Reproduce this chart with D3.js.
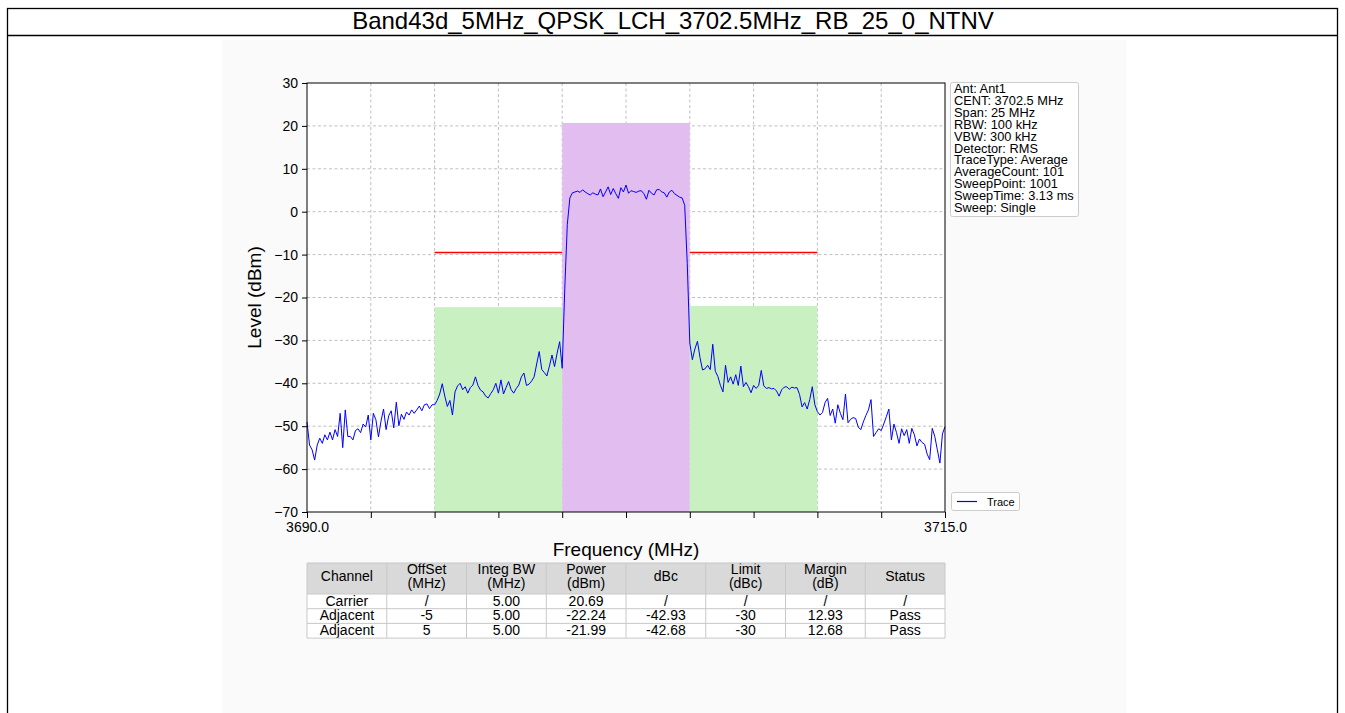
<!DOCTYPE html>
<html>
<head>
<meta charset="utf-8">
<script src="https://cdn.jsdelivr.net/npm/d3@7"></script>
<style>
  body { margin: 0; background: #fff; }
  svg text { font-family: "Liberation Sans", Arial, sans-serif; }
</style>
</head>
<body>
<div id="canvas"></div>
<script>
const title = "Band43d_5MHz_QPSK_LCH_3702.5MHz_RB_25_0_NTNV";

// sweep: 3690.0 .. 3715.0 MHz, one value per 0.1 MHz
const traceStart = 3690.0;
const traceStep = 0.1;
const traceLeft = [
  -49.0, -54.4, -55.5, -57.9, -54.4, -52.8, -54.0, -52.0, -53.2, -51.4,
  -53.2, -50.8, -52.4, -47.0, -55.0, -46.2, -52.4, -52.4, -53.2, -51.0,
  -50.6, -51.5, -49.5, -50.2, -47.4, -53.2, -47.0, -48.5, -52.5, -48.8,
  -46.0, -50.8, -47.6, -46.4, -50.4, -44.4, -49.9, -47.2, -48.4, -46.7,
  -47.4, -46.2, -47.0, -46.2, -45.3, -46.4, -45.0, -44.8, -45.9, -45.0, -45.0
];
const traceLowerAdj = [
  -44.0, -42.5, -40.1, -43.0, -45.4, -44.0, -47.4, -42.0, -40.6, -40.0,
  -41.5, -40.8, -42.3, -41.0, -40.4, -38.5, -40.5, -41.6, -42.0, -43.0,
  -43.4, -42.4, -41.5, -40.0, -42.3, -39.2, -42.5, -41.0, -39.6, -41.5,
  -42.3, -41.2, -40.4, -38.5, -37.6, -40.5, -40.2, -39.5, -38.5, -35.5,
  -32.6, -36.8, -37.5, -38.3, -36.0, -33.4, -36.1, -33.0, -30.3, -36.5
];
const traceCarrier = [
  -18.0, -3.0, 3.2,
  4.4, 4.6, 4.8, 4.5, 5.1, 4.6, 4.2, 3.9, 4.4, 4.1,
  3.9, 5.3, 3.5, 4.6, 5.8, 4.0, 5.4, 4.2, 3.1, 5.6,
  4.6, 6.2, 4.3, 4.9, 4.7, 4.5, 4.8, 4.9, 4.2, 2.9,
  5.0, 4.3, 3.9, 5.1, 5.2, 4.6, 4.4, 3.4, 4.6, 5.0,
  4.2, 3.8, 3.4, 3.2,
  1.5, -12.0
];
const traceRight = [
  -30.6, -34.5, -32.0, -30.2, -34.0, -36.9, -36.6, -35.8, -36.8, -30.9,
  -37.2, -38.4, -40.5, -42.0, -35.8, -39.8, -38.5, -40.2, -38.0, -40.5,
  -36.0, -40.8, -39.8, -40.8, -42.2, -40.5, -41.2, -40.5, -37.0, -40.6,
  -41.2, -41.0, -41.3, -41.2, -41.8, -43.0, -41.5, -40.9, -40.8, -41.4,
  -40.9, -41.1, -41.0, -42.6, -45.5, -44.5, -46.0, -43.8, -40.8, -45.0,
  -46.6, -47.4, -46.8, -44.5, -43.5, -47.5, -46.0, -49.3, -45.0, -47.0,
  -48.5, -42.5, -49.2, -48.4, -48.0, -48.2, -50.2, -50.8, -49.0, -47.5,
  -46.2, -43.8, -52.4, -51.5, -50.6, -51.0, -49.5, -47.8, -46.0, -53.2,
  -49.5, -51.5, -54.0, -50.6, -52.2, -50.8, -54.0, -50.5, -52.0, -54.6,
  -53.0, -53.8, -54.2, -56.5, -57.8, -50.5, -52.4, -55.5, -58.6, -51.8, -50.1
];
const traceValues = traceLeft.concat(traceLowerAdj, traceCarrier, traceRight);

// integration bands
const bandNames = ["Adjacent-", "Carrier", "Adjacent+"];
const bandStart = [3695, 3700, 3705];
const bandEnd = [3700, 3705, 3710];
const bandPower = [-22.24, 20.69, -21.99];
const bandColor = ["#c9f0c0", "#e2bdf0", "#c9f0c0"];
// limit lines over adjacent channels (carrier - 30 dB)
const limitStart = [3695, 3705];
const limitEnd = [3700, 3710];
const limitLevel = [-9.31, -9.31];

const xTicks = [3690, 3692.5, 3695, 3697.5, 3700, 3702.5, 3705, 3707.5, 3710, 3712.5, 3715];
const xTickLabels = { 3690: "3690.0", 3715: "3715.0" };
const yTicks = [30, 20, 10, 0, -10, -20, -30, -40, -50, -60, -70];

const infoLines = [
  "Ant: Ant1", "CENT: 3702.5 MHz", "Span: 25 MHz", "RBW: 100 kHz", "VBW: 300 kHz",
  "Detector: RMS", "TraceType: Average", "AverageCount: 101", "SweepPoint: 1001",
  "SweepTime: 3.13 ms", "Sweep: Single"
];

const tableHeader = [
  ["Channel"], ["OffSet", "(MHz)"], ["Integ BW", "(MHz)"], ["Power", "(dBm)"],
  ["dBc"], ["Limit", "(dBc)"], ["Margin", "(dB)"], ["Status"]
];
const tableRows = [
  ["Carrier", "/", "5.00", "20.69", "/", "/", "/", "/"],
  ["Adjacent", "-5", "5.00", "-22.24", "-42.93", "-30", "12.93", "Pass"],
  ["Adjacent", "5", "5.00", "-21.99", "-42.68", "-30", "12.68", "Pass"]
];

const W = 1345, H = 713;
const plot = { left: 307, right: 945, top: 83, bottom: 512 };

const svg = d3.select("#canvas").append("svg")
  .attr("width", W).attr("height", H);

// page frame and title cell
svg.append("rect").attr("x", 222).attr("y", 40).attr("width", 905).attr("height", H - 40)
  .attr("fill", "#fafafa");
svg.append("rect").attr("x", 7.5).attr("y", 8.5).attr("width", 1330).attr("height", H + 20)
  .attr("fill", "none").attr("stroke", "#000").attr("stroke-width", 1.3);
svg.append("line").attr("x1", 7.5).attr("x2", 1337.5).attr("y1", 35.5).attr("y2", 35.5)
  .attr("stroke", "#000").attr("stroke-width", 1.3);
svg.append("text").attr("x", 673).attr("y", 29).attr("text-anchor", "middle")
  .attr("font-size", 24).text(title);

const x = d3.scaleLinear().domain([3690, 3715]).range([plot.left, plot.right]);
const y = d3.scaleLinear().domain([-70, 30]).range([plot.bottom, plot.top]);

const g = svg.append("g");
g.append("rect").attr("x", plot.left).attr("y", plot.top)
  .attr("width", plot.right - plot.left).attr("height", plot.bottom - plot.top)
  .attr("fill", "#fff");

// grid
g.append("g").selectAll("line").data(xTicks.slice(1, -1)).join("line")
  .attr("x1", d => x(d)).attr("x2", d => x(d))
  .attr("y1", plot.top).attr("y2", plot.bottom)
  .attr("stroke", "#b0b0b0").attr("stroke-width", 0.8).attr("stroke-dasharray", "3,2.5");
g.append("g").selectAll("line").data(yTicks.slice(1, -1)).join("line")
  .attr("y1", d => y(d)).attr("y2", d => y(d))
  .attr("x1", plot.left).attr("x2", plot.right)
  .attr("stroke", "#b0b0b0").attr("stroke-width", 0.8).attr("stroke-dasharray", "3,2.5");

// channel bands
g.append("g").selectAll("rect").data(bandNames).join("rect")
  .attr("x", (d, i) => x(bandStart[i]))
  .attr("width", (d, i) => x(bandEnd[i]) - x(bandStart[i]))
  .attr("y", (d, i) => y(bandPower[i]))
  .attr("height", (d, i) => y(-70) - y(bandPower[i]))
  .attr("fill", (d, i) => bandColor[i]);

// limit lines (snapped to the pixel grid so they stay crisp)
g.append("g").selectAll("line").data(limitLevel).join("line")
  .attr("x1", (d, i) => x(limitStart[i])).attr("x2", (d, i) => x(limitEnd[i]))
  .attr("y1", d => Math.round(y(d)) + 0.5).attr("y2", d => Math.round(y(d)) + 0.5)
  .attr("stroke", "#ff0000").attr("stroke-width", 1.3);

// trace
const line = d3.line()
  .x((d, i) => x(traceStart + i * traceStep))
  .y(d => y(d));
g.append("path").datum(traceValues)
  .attr("d", line).attr("fill", "none")
  .attr("stroke", "#0000ff").attr("stroke-width", 1);

// axes
const xAxis = d3.axisBottom(x).tickValues(xTicks).tickSize(6).tickPadding(4)
  .tickFormat(d => xTickLabels[d] || "");
const yAxis = d3.axisLeft(y).tickValues(yTicks).tickSize(5).tickPadding(4)
  .tickFormat(d => d < 0 ? "\u2212" + Math.abs(d) : String(d));

const gx = svg.append("g").attr("transform", `translate(0,${plot.bottom})`).call(xAxis);
const gy = svg.append("g").attr("transform", `translate(${plot.left},0)`).call(yAxis);
[gx, gy].forEach(a => {
  a.select(".domain").remove();
  a.selectAll("text").attr("font-size", 14).attr("fill", "#000")
    .attr("font-family", "Liberation Sans, Arial, sans-serif");
  a.selectAll("line").attr("stroke", "#000");
});

svg.append("rect").attr("x", plot.left).attr("y", plot.top)
  .attr("width", plot.right - plot.left).attr("height", plot.bottom - plot.top)
  .attr("fill", "none").attr("stroke", "#000").attr("stroke-width", 1);

svg.append("text").attr("x", (plot.left + plot.right) / 2).attr("y", 556)
  .attr("text-anchor", "middle").attr("font-size", 19).text("Frequency (MHz)");
svg.append("text")
  .attr("transform", `translate(261,${(plot.top + plot.bottom) / 2}) rotate(-90)`)
  .attr("text-anchor", "middle").attr("font-size", 19).text("Level (dBm)");

// info box
const info = svg.append("g").attr("transform", "translate(950,82)");
info.append("rect").attr("x", 0.5).attr("y", 0.5).attr("width", 128).attr("height", 134)
  .attr("rx", 2).attr("fill", "#fff").attr("stroke", "#cccccc");
info.selectAll("text").data(infoLines).join("text")
  .attr("x", 4).attr("y", (d, i) => 11 + i * 11.9)
  .attr("font-size", 12.8).attr("fill", "#000").text(d => d);

// legend
const leg = svg.append("g").attr("transform", "translate(951,492)");
leg.append("rect").attr("x", 0.5).attr("y", 0.5).attr("width", 68).attr("height", 18)
  .attr("rx", 2).attr("fill", "#fff").attr("stroke", "#cccccc");
leg.append("line").attr("x1", 6).attr("x2", 26).attr("y1", 9.5).attr("y2", 9.5)
  .attr("stroke", "#0000ff").attr("stroke-width", 1.2);
leg.append("text").attr("x", 36).attr("y", 13.5).attr("font-size", 11).text("Trace");

// table
const colX = d3.scaleLinear().domain([0, 8]).range([plot.left, plot.right]);
const tTop = 563, headH = 31, rowH = 14.7;
const tbl = svg.append("g");
tbl.append("rect").attr("x", plot.left).attr("y", tTop)
  .attr("width", plot.right - plot.left).attr("height", headH).attr("fill", "#d9d9d9");
tbl.append("rect").attr("x", plot.left).attr("y", tTop + headH)
  .attr("width", plot.right - plot.left).attr("height", rowH * tableRows.length).attr("fill", "#fff");
tableHeader.forEach((lines, c) => {
  lines.forEach((t, k) => {
    tbl.append("text").attr("x", colX(c + 0.5))
      .attr("y", lines.length === 1 ? tTop + 18 : tTop + 10.5 + k * 14.5)
      .attr("text-anchor", "middle").attr("font-size", 14).text(t);
  });
});
tableRows.forEach((row, r) => {
  row.forEach((t, c) => {
    tbl.append("text").attr("x", colX(c + 0.5))
      .attr("y", tTop + headH + r * rowH + 11.5)
      .attr("text-anchor", "middle").attr("font-size", 14).text(t);
  });
});
// cell borders
const tBottom = tTop + headH + rowH * tableRows.length;
tbl.selectAll("line.v").data(d3.range(9)).join("line")
  .attr("x1", d => colX(d)).attr("x2", d => colX(d))
  .attr("y1", tTop).attr("y2", tBottom)
  .attr("stroke", "#c8c8c8").attr("stroke-width", 1);
tbl.selectAll("line.h").data([0, 1, 2, 3]).join("line")
  .attr("x1", plot.left).attr("x2", plot.right)
  .attr("y1", d => tTop + headH + d * rowH).attr("y2", d => tTop + headH + d * rowH)
  .attr("stroke", "#c8c8c8").attr("stroke-width", 1);
tbl.append("line").attr("x1", plot.left).attr("x2", plot.right)
  .attr("y1", tTop).attr("y2", tTop).attr("stroke", "#c8c8c8");
</script>
</body>
</html>
